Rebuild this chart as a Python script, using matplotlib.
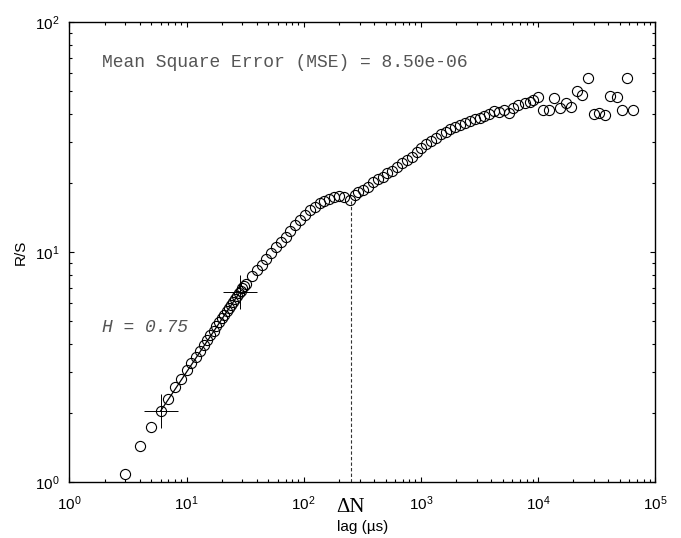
import matplotlib
matplotlib.use("Agg")
import matplotlib.pyplot as plt
import matplotlib.transforms as mtransforms

plt.rcParams['font.family'] = ['Liberation Sans', 'DejaVu Sans']
plt.rcParams['mathtext.default'] = 'regular'

# R/S values per lag
lag = [3, 4, 5, 6, 7, 8, 9, 10, 11, 12, 13, 14, 15, 16, 17, 18, 19, 20,
       21, 22, 23, 24, 25, 26, 27, 28, 29, 30, 31, 32,
       36, 40, 44, 48, 53, 58, 64, 70, 77, 85, 93, 103, 113, 124, 137,
       150, 165, 182, 200, 220, 250, 274, 293, 322, 355, 390, 429, 472,
       519, 571, 628, 691, 760, 836, 920, 1012, 1113, 1224, 1347, 1481,
       1629, 1792, 1972, 2169, 2386, 2624, 2887, 3175, 3493, 3842, 4226,
       4649, 5114, 5625, 6188, 6807, 7760, 8560, 9140, 10080, 11110,
       12510, 13800, 15450, 17270, 19050, 21450, 23950, 26610, 30130,
       33440, 37400, 41280, 47120, 51980, 58000, 65300]
rs = [1.09, 1.43, 1.74, 2.03, 2.31, 2.59, 2.82, 3.06, 3.29, 3.51, 3.73,
      3.94, 4.15, 4.35, 4.56, 4.76, 4.95, 5.15, 5.34, 5.53, 5.72, 5.90,
      6.08, 6.27, 6.45, 6.62, 6.80, 6.97, 7.12, 7.28,
      7.9, 8.35, 8.8, 9.3, 9.95, 10.5, 11.1, 11.7, 12.4, 13.1, 13.8, 14.5,
      15.2, 15.8, 16.3, 16.7, 17.0, 17.3, 17.5, 17.4, 16.9, 17.8, 18.3,
      18.6, 19.3, 20.2, 20.8, 21.3, 22.0, 22.6, 23.5, 24.4, 25.2, 26.0,
      27.2, 28.3, 29.6, 30.6, 31.5, 32.7, 33.4, 34.2, 35.1, 35.6, 36.4,
      37.2, 37.9, 38.3, 39.0, 40.0, 41.2, 40.6, 41.4, 40.1, 42.4, 43.5,
      44.4, 45.2, 45.9, 47.4, 41.5, 41.5, 46.7, 42.2, 44.7, 42.9, 50.4,
      48.2, 57.0, 39.9, 40.2, 39.5, 47.9, 47.1, 41.5, 57.4, 41.5]

# fitted scaling range (end points marked with crosses)
fit_lag = [6, 28.6]
fit_rs = [2.04, 6.72]
hurst = 0.75
mse = 8.50e-06
delta_n = 252
delta_n_rs = 17.0

fig = plt.figure(figsize=(6.81, 5.38), dpi=100)
ax = fig.add_axes([0.102, 0.1037, 0.8598, 0.855])

ax.loglog(lag, rs, 'o', mfc='none', mec='black', ms=7.3, mew=0.8)
ax.plot(fit_lag, fit_rs, '-', color='black', lw=0.9)
ax.plot(fit_lag, fit_rs, '+', color='black', ms=25, mew=0.7)
ax.plot([delta_n, delta_n], [1, delta_n_rs], '--', color='#333333',
        lw=0.8, dashes=(3, 2))

ax.set_xlim(1, 1e5)
ax.set_ylim(1, 100)
ax.set_xlabel('lag (\u00b5s)', fontsize=11, labelpad=5)
ax.set_ylabel('R/S', fontsize=11, labelpad=5)

ax.tick_params(which='both', direction='in', top=True, right=True,
               labelsize=11, width=0.8)
ax.tick_params(which='major', length=3.8)
ax.tick_params(axis='x', which='major', pad=8.5)
ax.tick_params(axis='y', which='major', pad=7)
ax.tick_params(which='minor', length=2)
for s in ax.spines.values():
    s.set_linewidth(1.0)

trans = mtransforms.blended_transform_factory(ax.transData, ax.transAxes)
ax.text(delta_n, -0.064, '\u0394N', transform=trans, ha='center',
        va='baseline', fontsize=15,
        family=['Liberation Serif', 'DejaVu Serif'])

ax.text(0.056, 0.913, 'Mean Square Error (MSE) = %.2e' % mse,
        transform=ax.transAxes, fontsize=13, color='#555555',
        family='Liberation Mono', va='center')
ax.text(0.055, 0.337, 'H = %.2f' % hurst, transform=ax.transAxes,
        fontsize=13, color='#555555', family='Liberation Mono',
        style='italic', va='center')

fig.savefig('out.png', dpi=100)
